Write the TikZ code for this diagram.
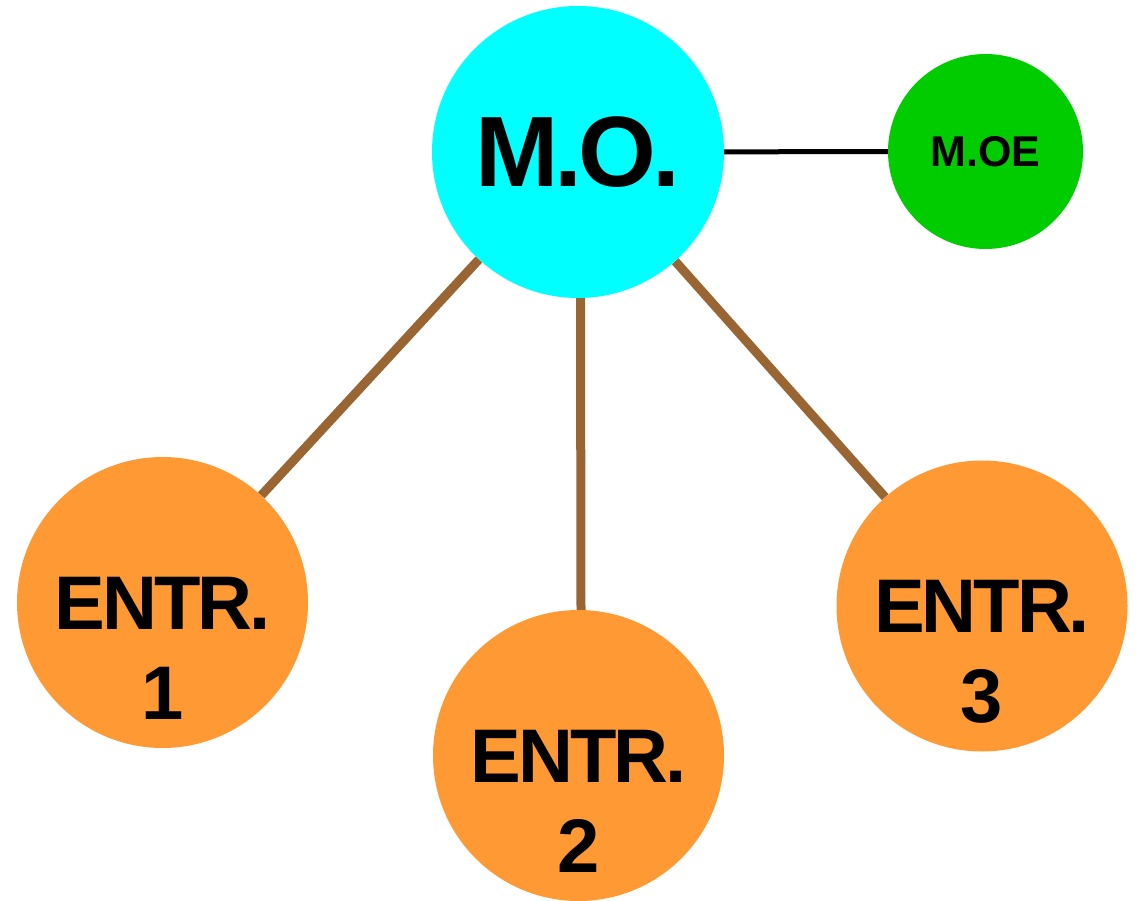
\documentclass[tikz,border=0pt]{standalone}
\usepackage{fontspec}
\setmainfont{Liberation Sans}
\newfontfamily\tightsans[LetterSpace=-4]{Liberation Sans}
\usetikzlibrary{backgrounds}
\definecolor{moCyan}{RGB}{0,255,255}
\definecolor{moeGreen}{RGB}{0,204,0}
\definecolor{entrOrange}{RGB}{255,153,51}
\definecolor{linkBrown}{RGB}{153,102,51}
\begin{document}
\begin{tikzpicture}[x=1pt,y=-1pt,
  bubble/.style={circle, inner sep=0pt, draw=none},
  entrbubble/.style={bubble, fill=entrOrange, minimum size=291pt},
  entrtext/.style={anchor=north, align=center, inner sep=0pt,
    font=\tightsans\bfseries\fontsize{76}{90}\selectfont},
  link/.style={draw=linkBrown, line width=9pt},
  ctrl/.style={draw=black, line width=5pt}]
\useasboundingbox (0,0) rectangle (1138,901);

% central node and its companion
\node[bubble, fill=moCyan, minimum size=292pt,
      font=\tightsans\bfseries\fontsize{100}{100}\selectfont] (mo) at (578,152) {M.O.};
\node[bubble, fill=moeGreen, minimum size=195pt,
      font=\bfseries\fontsize{43}{43}\selectfont] (moe) at (985.5,151.5) {M.OE};

% the three entries
\node[entrbubble] (e1) at (162.5,602.5) {};
\node[entrbubble] (e2) at (578.5,755.5) {};
\node[entrbubble] (e3) at (982,606) {};
\node[entrtext] (t1) at ([yshift=25.5pt]e1.center) {ENTR.\\1};
\node[entrtext] (t2) at ([yshift=25.5pt]e2.center) {ENTR.\\2};
\node[entrtext] (t3) at ([yshift=25.5pt]e3.center) {ENTR.\\3};

% connectors behind the circles
\begin{pgfonlayer}{background}
  \draw[link] (mo) -- (e1);
  \draw[link] ([xshift=2.5pt]mo.south) -- ([xshift=2.5pt]e2.north);
  \draw[link] (mo) -- (e3);
  \draw[ctrl] (mo) -- (moe);
\end{pgfonlayer}
\end{tikzpicture}
\end{document}
